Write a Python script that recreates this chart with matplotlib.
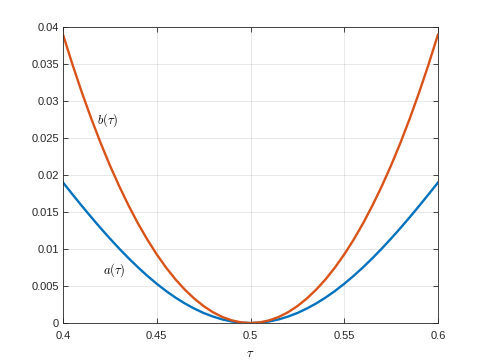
import matplotlib.pyplot as plt

plt.rcParams['mathtext.fontset'] = 'cm'
plt.rcParams['font.family'] = ['Liberation Sans', 'DejaVu Sans']

# values
tau = [0.400, 0.405, 0.410, 0.415, 0.420, 0.425, 0.430, 0.435, 0.440, 0.445,
       0.450, 0.455, 0.460, 0.465, 0.470, 0.475, 0.480, 0.485, 0.490, 0.495,
       0.500,
       0.505, 0.510, 0.515, 0.520, 0.525, 0.530, 0.535, 0.540, 0.545, 0.550,
       0.555, 0.560, 0.565, 0.570, 0.575, 0.580, 0.585, 0.590, 0.595, 0.600]
a_vals = [0.01900, 0.01741, 0.01585, 0.01433, 0.01285, 0.01143, 0.01006, 0.00876, 0.00753, 0.00638,
          0.00531, 0.00433, 0.00344, 0.00265, 0.00196, 0.00136, 0.00088, 0.00049, 0.00022, 0.000055,
          0.0,
          0.000055, 0.00022, 0.00049, 0.00088, 0.00136, 0.00196, 0.00265, 0.00344, 0.00433, 0.00531,
          0.00638, 0.00753, 0.00876, 0.01006, 0.01143, 0.01285, 0.01433, 0.01585, 0.01741, 0.01900]
b_vals = [0.03900, 0.03498, 0.03121, 0.02768, 0.02438, 0.02132, 0.01849, 0.01587, 0.01346, 0.01127,
          0.00928, 0.00749, 0.00590, 0.00451, 0.00331, 0.00229, 0.00146, 0.00082, 0.00037, 0.00009,
          0.0,
          0.00009, 0.00037, 0.00082, 0.00146, 0.00229, 0.00331, 0.00451, 0.00590, 0.00749, 0.00928,
          0.01127, 0.01346, 0.01587, 0.01849, 0.02132, 0.02438, 0.02768, 0.03121, 0.03498, 0.03900]

x_ticks = [0.4, 0.45, 0.5, 0.55, 0.6]
x_ticklabels = ['0.4', '0.45', '0.5', '0.55', '0.6']
y_ticks = [0, 0.005, 0.01, 0.015, 0.02, 0.025, 0.03, 0.035, 0.04]
y_ticklabels = ['0', '0.005', '0.01', '0.015', '0.02', '0.025', '0.03', '0.035', '0.04']

fig = plt.figure(figsize=(4.85, 3.63), dpi=100)
ax = fig.add_axes([0.13, 0.11, 0.773, 0.815])

ax.plot(tau, a_vals, color='#0072BD', lw=1.7)
ax.plot(tau, b_vals, color='#D95319', lw=1.7)

ax.text(0.418, 0.0275, r'$b(\tau)$', fontsize=9, va='center', ha='left')
ax.text(0.4215, 0.0072, r'$a(\tau)$', fontsize=9, va='center', ha='left')

ax.set_xlim(0.4, 0.6)
ax.set_ylim(0, 0.04)
ax.set_xticks(x_ticks)
ax.set_xticklabels(x_ticklabels)
ax.set_yticks(y_ticks)
ax.set_yticklabels(y_ticklabels)
ax.set_xlabel(r'$\tau$', fontsize=9, labelpad=5)

ax.grid(True, color='#262626', alpha=0.12, lw=0.6)
ax.set_axisbelow(True)
for s in ax.spines.values():
    s.set_color('#262626')
    s.set_linewidth(0.6)
ax.tick_params(direction='in', length=3.5, width=0.6, colors='#262626',
               labelsize=8, top=True, right=True)
ax.tick_params(axis='x', pad=6)
ax.tick_params(axis='y', pad=3)

plt.savefig('out.png', dpi=100)
